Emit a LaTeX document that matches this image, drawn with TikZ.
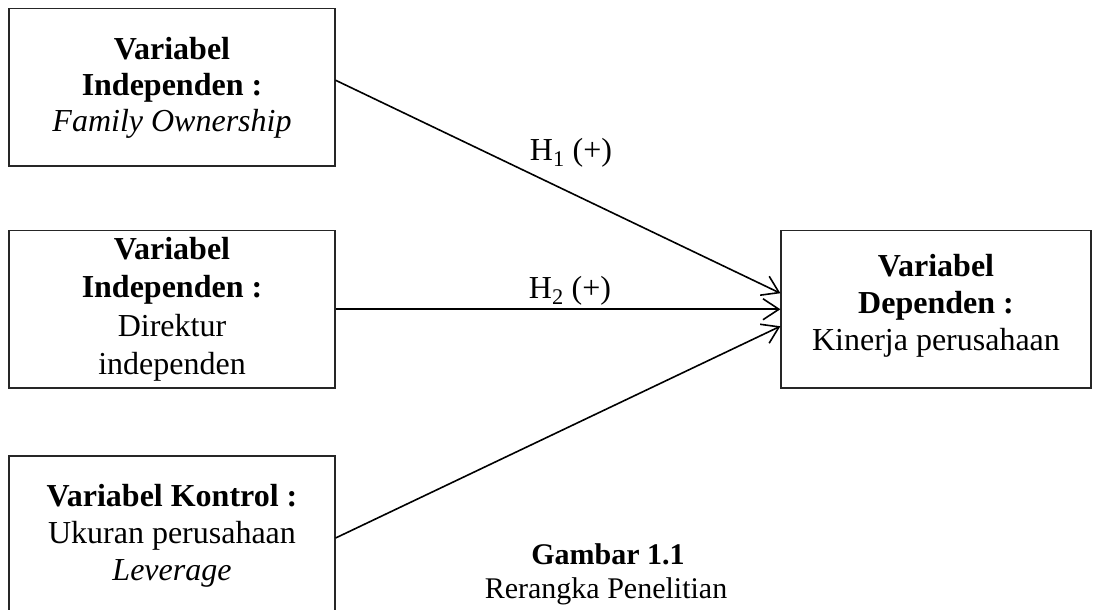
\documentclass[tikz,border=0pt]{standalone}
\usepackage{fontspec}
\setmainfont{Liberation Serif}
\usetikzlibrary{arrows.meta}
\begin{document}
\begin{tikzpicture}[x=1pt,y=-1pt,
  box/.style={draw=black!85, line width=1.2pt, inner sep=0pt},
  txt/.style={align=center, inner sep=0pt, font=\fontsize{32}{37}\selectfont},
  lbl/.style={inner sep=0pt, anchor=base, font=\fontsize{32}{37}\selectfont},
  captext/.style={inner sep=0pt, anchor=base, font=\fontsize{30}{37}\selectfont},
  conn/.style={line width=1.6pt, -{Straight Barb[length=16pt,width=21pt,line width=1.6pt]}}]
\useasboundingbox (0,0) rectangle (1093,610);
% boxes
\node[box, minimum width=326pt, minimum height=157.5pt] (b1) at (172,87.25) {};
\node[box, minimum width=326pt, minimum height=157.5pt] (b2) at (172,309.25) {};
\node[box, minimum width=326pt, minimum height=164pt] (b3) at (172,538) {};
\node[box, minimum width=310pt, minimum height=157.5pt] (b4) at (936,309.25) {};
% texts
\node[txt, font=\fontsize{32}{36}\selectfont] (t1) at (172,88) {\textbf{Variabel}\\\textbf{Independen :}\\\textit{Family Ownership}};
\node[txt, font=\fontsize{32}{38.5}\selectfont] (t2) at (172,309.5) {\textbf{Variabel}\\\textbf{Independen :}\\Direktur\\independen};
\node[txt] (t3) at (172,535.5) {\textbf{Variabel Kontrol :}\\Ukuran perusahaan\\\textit{Leverage}};
\node[txt] (t4) at (936,305.5) {\textbf{Variabel}\\\textbf{Dependen :}\\Kinerja perusahaan};
% connectors
\draw[conn] ([yshift=7pt]b1.east) -- ([yshift=16pt]b4.west);
\draw[conn] (b2.east) -- (b4.west);
\draw[conn] (b3.east) -- ([yshift=-17pt]b4.west);
% labels
\node[lbl] (h1) at (571,160) {H\textsubscript{1} (+)};
\node[lbl] (h2) at (570,298) {H\textsubscript{2} (+)};
\node[captext] (c1) at (608,564) {\textbf{Gambar 1.1}};
\node[captext] (c2) at (606,598) {Rerangka Penelitian};
\end{tikzpicture}
\end{document}
